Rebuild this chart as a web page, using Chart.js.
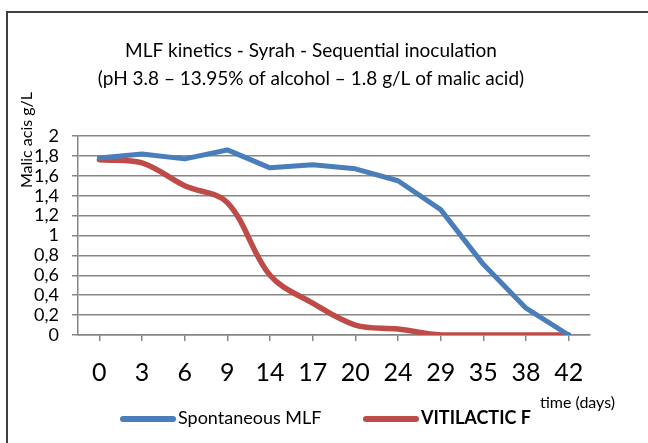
<!DOCTYPE html>
<html>
<head>
<meta charset="utf-8">
<script src="https://cdn.jsdelivr.net/npm/chart.js@4"></script>
<style>
  html, body { margin: 0; padding: 0; background: #fff; }
  #wrap { position: relative; width: 648px; height: 443px; overflow: hidden; }
  #frame {
    position: absolute; left: 6px; top: 11px; width: 700px; height: 500px;
    border-left: 2px solid #404040; border-top: 2px solid #404040;
  }
  #chart { position: absolute; left: 0; top: 0; }
  .leg { position: absolute; top: 406px; font-family: "Lato", sans-serif; font-size: 18px; color: #000; white-space: nowrap; }
  .leg .sw { display: inline-block; width: 56px; height: 6px; border-radius: 3px; vertical-align: middle; margin-right: 2px; }
</style>
</head>
<body>
<div id="wrap">
  <div id="frame"></div>
  <canvas id="chart" width="648" height="443"></canvas>
  <div class="leg" id="leg1" style="left:120px"><span class="sw" style="background:#4A7EBB"></span>Spontaneous MLF</div>
  <div class="leg" id="leg2" style="left:363px;font-weight:bold"><span class="sw" style="background:#BE4B48"></span>VITILACTIC F</div>
</div>
<script>
const days = ["0", "3", "6", "9", "14", "17", "20", "24", "29", "35", "38", "42"];
const spontaneous = [1.78, 1.82, 1.77, 1.86, 1.68, 1.71, 1.67, 1.55, 1.26, 0.71, 0.27, 0.0];
const vitilactic = [1.76, 1.73, 1.50, 1.33, 0.60, 0.32, 0.10, 0.06, 0.0, 0.0, 0.0, 0.0];
const yTicks = { min: 0, max: 2, step: 0.2 };

const font = "Lato";

// axis titles drawn as plain text where the original has them
const extraText = {
  id: "extraText",
  afterDraw(chart) {
    const c = chart.ctx;
    c.save();
    c.fillStyle = "#000";
    c.font = "16px " + font;
    c.textAlign = "center";
    c.textBaseline = "middle";
    c.translate(27, 140);
    c.rotate(-Math.PI / 2);
    c.fillText("Malic acis g/L", 0, 0);
    c.restore();

    c.save();
    c.fillStyle = "#000";
    c.font = "16px " + font;
    c.textAlign = "left";
    c.textBaseline = "middle";
    c.fillText("time (days)", 540, 403);
    c.restore();
  },
};

const ctx = document.getElementById("chart").getContext("2d");
new Chart(ctx, {
  type: "line",
  data: {
    labels: days,
    datasets: [
      {
        label: "Spontaneous MLF",
        data: spontaneous,
        borderColor: "#4A7EBB",
        backgroundColor: "#4A7EBB",
        borderWidth: 5,
        pointRadius: 0,
        tension: 0,
        borderCapStyle: "round",
        borderJoinStyle: "round",
      },
      {
        label: "VITILACTIC F",
        data: vitilactic,
        borderColor: "#BE4B48",
        backgroundColor: "#BE4B48",
        borderWidth: 5.5,
        pointRadius: 0,
        tension: 0.35,
        borderCapStyle: "round",
      },
    ],
  },
  options: {
    responsive: false,
    animation: false,
    layout: { padding: { left: 32, right: 58, top: 0, bottom: 55 } },
    plugins: {
      legend: { display: false },
      tooltip: { enabled: false },
      title: {
        display: true,
        text: [
          "MLF kinetics - Syrah - Sequential inoculation",
          "(pH 3.8 \u2013 13.95% of alcohol \u2013 1.8 g/L of malic acid)",
        ],
        color: "#000",
        font: { family: font, size: 19, weight: "normal", lineHeight: 28 / 19 },
        padding: { top: 37, bottom: 43 },
      },
    },
    scales: {
      x: {
        offset: true,
        grid: {
          drawOnChartArea: false,
          drawTicks: true,
          tickLength: 6,
          color: "#868686",
          lineWidth: 1.5,
        },
        border: { color: "#868686", width: 1.5 },
        ticks: {
          color: "#000",
          font: { family: font, size: 25 },
          padding: 17,
          maxRotation: 0,
          autoSkip: false,
        },
        afterFit(scale) { scale.height = 53; },
      },
      y: {
        min: yTicks.min,
        max: yTicks.max,
        grid: { color: "#868686", lineWidth: 1.5, tickLength: 6 },
        border: { color: "#868686", width: 1.5 },
        ticks: {
          stepSize: yTicks.step,
          autoSkip: false,
          color: "#000",
          font: { family: font, size: 18 },
          padding: 13,
          callback: (v) => String(Number(v.toFixed(1))).replace(".", ","),
        },
        afterFit(scale) { scale.width = 46; },
      },
    },
  },
  plugins: [extraText],
});
</script>
</body>
</html>
